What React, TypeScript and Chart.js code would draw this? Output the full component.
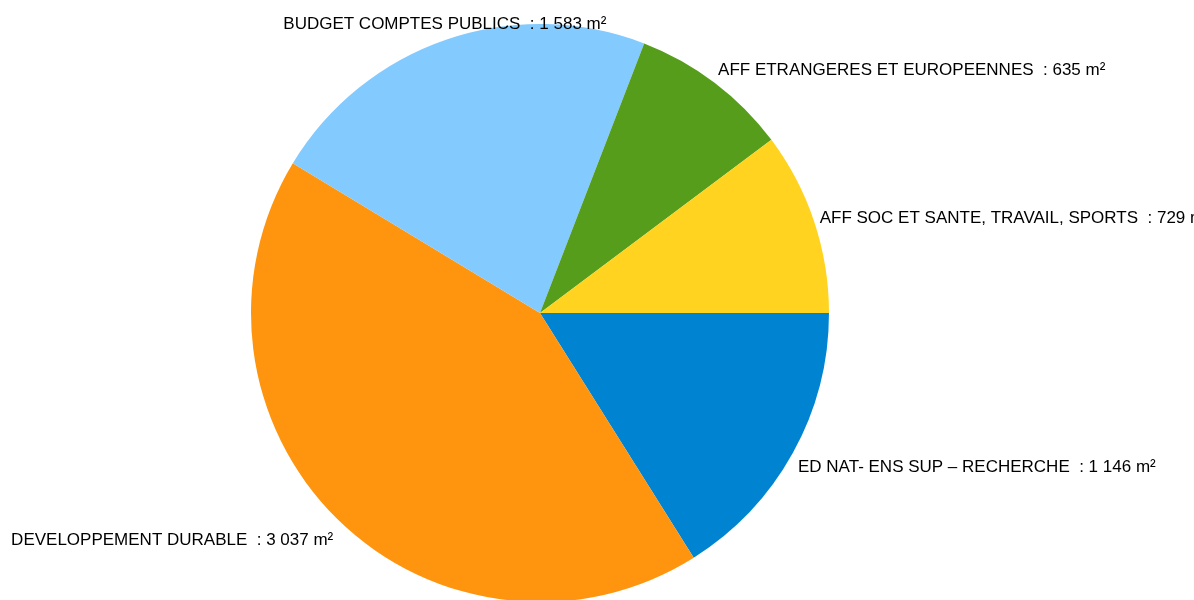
import React, { useEffect, useRef } from "react";
import { Chart, registerables } from "chart.js";

Chart.register(...registerables);

const categories = [
  "ED NAT- ENS SUP – RECHERCHE",
  "DEVELOPPEMENT DURABLE",
  "BUDGET COMPTES PUBLICS",
  "AFF ETRANGERES ET EUROPEENNES",
  "AFF SOC ET SANTE, TRAVAIL, SPORTS",
];
const values = [1146, 3037, 1583, 635, 729];
const valueLabels = ["1 146", "3 037", "1 583", "635", "729"];
const colors = ["#0084d1", "#ff950e", "#83caff", "#579d1c", "#ffd320"];

const outsideLabels = {
  id: "outsideLabels",
  afterDatasetsDraw(chart: any) {
    const ctx = chart.ctx;
    const meta = chart.getDatasetMeta(0);
    ctx.save();
    ctx.font = '17px "Liberation Sans", Arial, sans-serif';
    ctx.fillStyle = "#000000";
    ctx.textBaseline = "middle";
    meta.data.forEach((arc: any, i: number) => {
      const { x, y, startAngle, endAngle, outerRadius } = arc.getProps(
        ["x", "y", "startAngle", "endAngle", "outerRadius"],
        true
      );
      const mid = (startAngle + endAngle) / 2;
      const c = Math.cos(mid);
      const s = Math.sin(mid);
      const d = outerRadius * 1.02;
      const px = x + d * c;
      const py = y + d * s + 13 * s + 7 * Math.max(s, 0) + 2.5;
      if (Math.abs(c) < 0.4) ctx.textAlign = "center";
      else if (c > 0) ctx.textAlign = "left";
      else ctx.textAlign = "right";
      ctx.fillText(categories[i] + "  : " + valueLabels[i] + " m²", px, py);
    });
    ctx.restore();
  },
};

export default function App() {
  const ref = useRef<HTMLCanvasElement | null>(null);
  useEffect(() => {
    if (!ref.current) return;
    const chart = new Chart(ref.current, {
      type: "pie",
      data: {
        labels: categories,
        datasets: [
          {
            data: values,
            backgroundColor: colors,
            borderWidth: 0,
          },
        ],
      },
      options: {
        animation: false,
        responsive: false,
        rotation: 90,
        layout: { padding: { top: 24, bottom: 2, left: 0, right: 114 } },
        plugins: {
          legend: { display: false },
          tooltip: { enabled: false },
        },
      },
      plugins: [outsideLabels],
    });
    return () => chart.destroy();
  }, []);
  return (
    <div
      style={{
        position: "fixed",
        left: 0,
        top: 0,
        width: 1194,
        height: 600,
        overflow: "hidden",
        background: "#ffffff",
      }}
    >
      <canvas ref={ref} width={1194} height={604} style={{ display: "block" }} />
    </div>
  );
}
